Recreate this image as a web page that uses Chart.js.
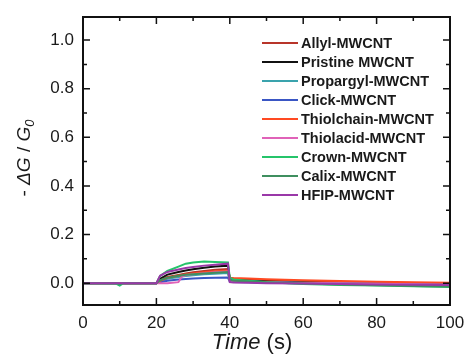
<!DOCTYPE html>
<html>
<head>
<meta charset="utf-8">
<script src="https://cdn.jsdelivr.net/npm/chart.js@4"></script>
<style>
  html, body { margin: 0; padding: 0; background: #fff; }
  #wrap { width: 466px; height: 356px; }
</style>
</head>
<body>
<div id="wrap"><canvas id="c" width="466" height="356"></canvas></div>
<script>
// time axis (s)
const times = [0, 9, 10, 11, 20, 21, 23, 26, 27, 28, 30, 33, 36, 39.5, 40, 41, 45, 50, 60, 70, 80, 90, 100];

const seriesNames = ['Allyl-MWCNT', 'Pristine MWCNT', 'Propargyl-MWCNT', 'Click-MWCNT', 'Thiolchain-MWCNT',
  'Thiolacid-MWCNT', 'Crown-MWCNT', 'Calix-MWCNT', 'HFIP-MWCNT'];
const seriesColors = ['#b8352a', '#111111', '#3aa3ad', '#3a56c4', '#ff4a22', '#e062b8', '#25c46a', '#3f8f5f', '#9a38a8'];

const allyl      = [0, 0, 0, 0, 0, 0.012, 0.025, 0.034, 0.037, 0.040, 0.045, 0.050, 0.055, 0.058, 0.020, 0.018, 0.015, 0.012, 0.008, 0.005, 0.003, 0.001, -0.001];
const pristine   = [0, 0, 0, 0, 0, 0.018, 0.035, 0.046, 0.049, 0.052, 0.057, 0.063, 0.068, 0.072, 0.015, 0.012, 0.010, 0.007, 0.003, 0.000, -0.002, -0.004, -0.005];
const propargyl  = [0, 0, 0, 0, 0, 0.008, 0.018, 0.025, 0.027, 0.029, 0.032, 0.036, 0.039, 0.042, 0.012, 0.010, 0.008, 0.005, 0.002, 0.000, -0.002, -0.004, -0.006];
const click      = [0, 0, 0, 0, 0, 0.004, 0.010, 0.015, 0.016, 0.017, 0.019, 0.021, 0.022, 0.023, 0.006, 0.005, 0.004, 0.002, 0.000, -0.002, -0.003, -0.005, -0.006];
const thiolchain = [0, 0, 0, 0, 0, 0.010, 0.022, 0.030, 0.033, 0.036, 0.040, 0.045, 0.049, 0.052, 0.022, 0.021, 0.019, 0.016, 0.012, 0.009, 0.006, 0.004, 0.002];
const thiolacid  = [0, 0, 0, 0, 0, 0.000, 0.000, 0.004, 0.028, 0.032, 0.037, 0.041, 0.045, 0.048, 0.008, 0.007, 0.006, 0.004, 0.001, -0.001, -0.003, -0.005, -0.007];
const crown      = [0, -0.002, -0.010, 0, 0, 0.030, 0.050, 0.068, 0.074, 0.080, 0.085, 0.089, 0.087, 0.085, 0.022, 0.015, 0.010, 0.004, -0.004, -0.008, -0.010, -0.013, -0.016];
const calix      = [0, 0, -0.003, 0, 0, 0.012, 0.022, 0.030, 0.032, 0.034, 0.037, 0.040, 0.043, 0.046, 0.012, 0.010, 0.007, 0.003, -0.002, -0.006, -0.009, -0.012, -0.014];
const hfip       = [0, 0, 0, 0, 0, 0.030, 0.046, 0.056, 0.059, 0.062, 0.066, 0.072, 0.076, 0.080, 0.004, 0.003, 0.002, 0.000, -0.002, -0.004, -0.006, -0.007, -0.008];
const seriesValues = [allyl, pristine, propargyl, click, thiolchain, thiolacid, crown, calix, hfip];

const xTicks = [0, 20, 40, 60, 80, 100];
const xMinor = [10, 30, 50, 70, 90];
const yTicks = [0, 0.2, 0.4, 0.6, 0.8, 1.0];
const yMinor = [0.1, 0.3, 0.5, 0.7, 0.9];

const FONT = '"Liberation Sans", Arial, sans-serif';

const framePlugin = {
  id: 'frame',
  afterDatasetsDraw(chart) {
    const { ctx, chartArea: a, scales } = chart;
    const x = scales.x, y = scales.y;
    ctx.save();
    ctx.strokeStyle = '#111';
    ctx.lineWidth = 1.5;
    // inward ticks on all four sides
    const tick = (vals, len) => {
      vals.forEach(v => {
        const px = x.getPixelForValue(v);
        ctx.beginPath();
        ctx.moveTo(px, a.bottom); ctx.lineTo(px, a.bottom - len);
        ctx.moveTo(px, a.top); ctx.lineTo(px, a.top + len);
        ctx.stroke();
      });
    };
    tick(xTicks, 7);
    tick(xMinor, 4);
    const ytick = (vals, len) => {
      vals.forEach(v => {
        const py = y.getPixelForValue(v);
        ctx.beginPath();
        ctx.moveTo(a.left, py); ctx.lineTo(a.left + len, py);
        ctx.moveTo(a.right, py); ctx.lineTo(a.right - len, py);
        ctx.stroke();
      });
    };
    ytick(yTicks, 7);
    ytick(yMinor, 4);
    ctx.lineWidth = 2;
    ctx.strokeRect(a.left, a.top, a.right - a.left, a.bottom - a.top);

    // legend
    ctx.font = 'bold 14.5px ' + FONT;
    ctx.textBaseline = 'middle';
    ctx.textAlign = 'left';
    chart.data.datasets.forEach((ds, i) => {
      const ly = 43 + i * 19;
      ctx.strokeStyle = ds.borderColor;
      ctx.lineWidth = 2;
      ctx.beginPath();
      ctx.moveTo(262, ly); ctx.lineTo(298, ly);
      ctx.stroke();
      ctx.fillStyle = '#1a1a1a';
      ctx.fillText(ds.label, 301, ly + 1);
    });
    ctx.restore();
  },
  afterDraw(chart) {
    const { ctx } = chart;
    ctx.save();
    ctx.fillStyle = '#1a1a1a';
    // x title
    ctx.textBaseline = 'alphabetic';
    ctx.textAlign = 'left';
    const itF = 'italic 22px ' + FONT, nF = '22px ' + FONT;
    ctx.font = itF; const w1 = ctx.measureText('Time').width;
    ctx.font = nF; const w2 = ctx.measureText(' (s)').width;
    let sx = 252 - (w1 + w2) / 2;
    ctx.font = itF; ctx.fillText('Time', sx, 349);
    ctx.font = nF; ctx.fillText(' (s)', sx + w1, 349);

    // y title, rotated
    ctx.translate(25, 158);
    ctx.rotate(-Math.PI / 2);
    const parts = [
      ['- ', '19px ' + FONT, 0],
      ['ΔG', 'italic 19px ' + FONT, 0],
      [' / ', '19px ' + FONT, 0],
      ['G', 'italic 19px ' + FONT, 0],
      ['0', 'italic 13px ' + FONT, 5]
    ];
    let total = 0;
    parts.forEach(p => { ctx.font = p[1]; total += ctx.measureText(p[0]).width; });
    let px = -total / 2;
    ctx.textBaseline = 'middle';
    parts.forEach(p => {
      ctx.font = p[1];
      ctx.fillText(p[0], px, p[2]);
      px += ctx.measureText(p[0]).width;
    });
    ctx.restore();
  }
};

const datasets = seriesNames.map((name, i) => ({
  label: name,
  data: times.map((t, k) => ({ x: t, y: seriesValues[i][k] })),
  borderColor: seriesColors[i],
  backgroundColor: seriesColors[i],
  borderWidth: 2,
  pointRadius: 0,
  tension: 0,
  fill: false,
  order: seriesNames.length - i
}));

new Chart(document.getElementById('c'), {
  type: 'line',
  data: { datasets },
  options: {
    responsive: false,
    animation: false,
    layout: { padding: { left: 0, right: 16, top: 17, bottom: 0 } },
    plugins: { legend: { display: false }, tooltip: { enabled: false } },
    scales: {
      x: {
        type: 'linear',
        min: 0,
        max: 100,
        afterBuildTicks: s => { s.ticks = xTicks.map(v => ({ value: v })); },
        afterFit: s => { s.height = 51; s.paddingLeft = 0; s.paddingRight = 0; },
        grid: { display: false, drawTicks: false },
        border: { display: false },
        ticks: {
          autoSkip: false,
          maxRotation: 0,
          padding: 8,
          color: '#1a1a1a',
          font: { family: FONT, size: 17 },
          callback: v => String(v)
        }
      },
      y: {
        type: 'linear',
        min: -0.09,
        max: 1.095,
        afterBuildTicks: s => { s.ticks = yTicks.map(v => ({ value: v })); },
        afterFit: s => { s.width = 83; s.paddingTop = 0; s.paddingBottom = 0; },
        grid: { display: false, drawTicks: false },
        border: { display: false },
        ticks: {
          padding: 9,
          color: '#1a1a1a',
          font: { family: FONT, size: 17 },
          callback: v => Number(v).toFixed(1)
        }
      }
    }
  },
  plugins: [framePlugin]
});
</script>
</body>
</html>
